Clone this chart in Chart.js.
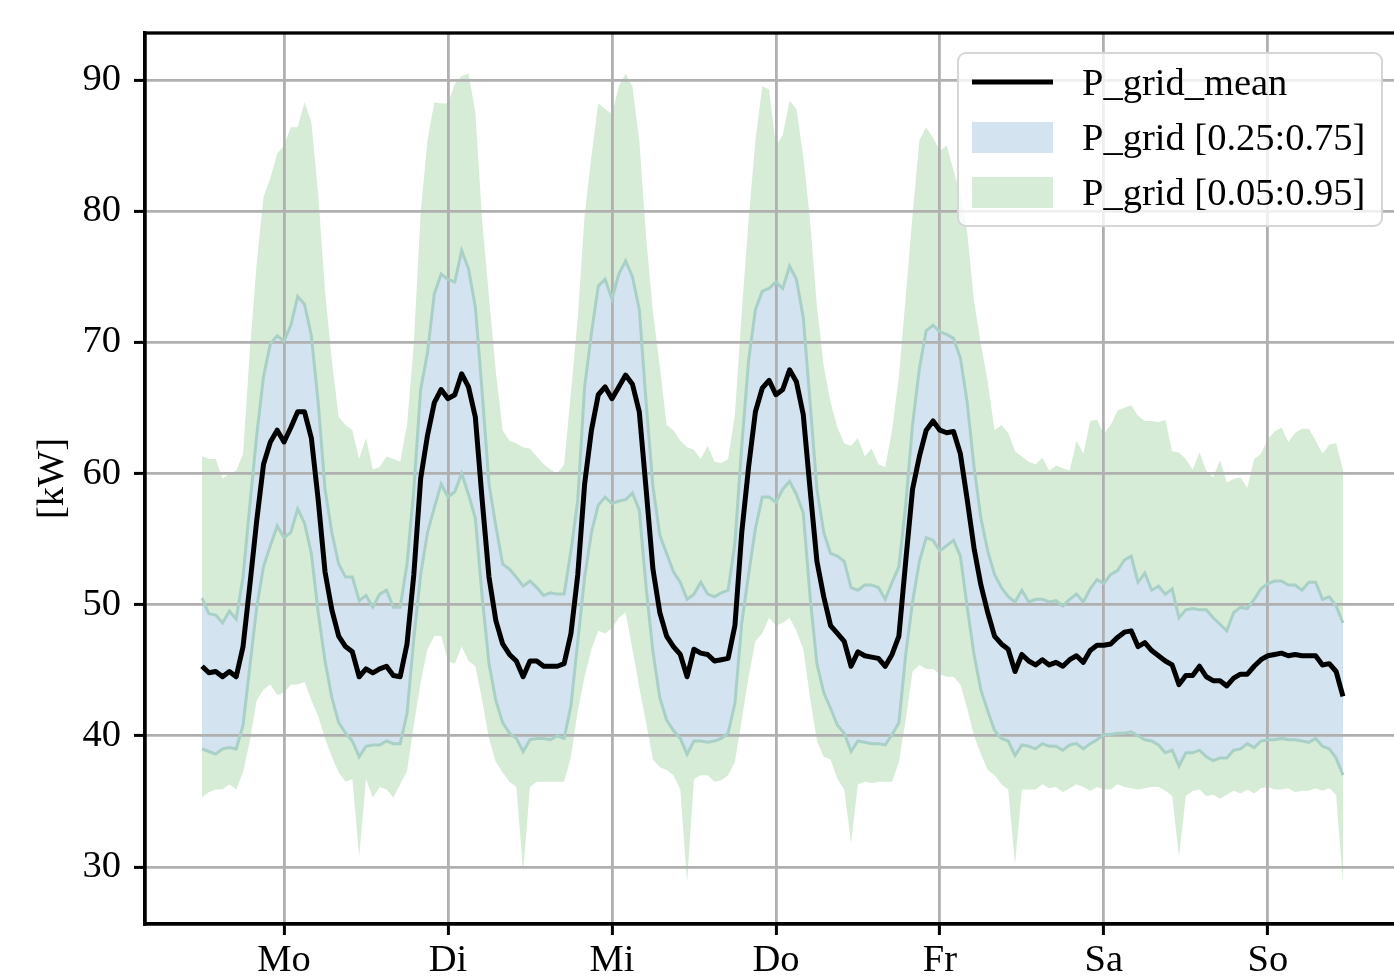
<!DOCTYPE html>
<html>
<head>
<meta charset="utf-8">
<script src="https://cdn.jsdelivr.net/npm/chart.js@4.4.1/dist/chart.umd.min.js"></script>
<style>
  html, body { margin: 0; padding: 0; background: #fff; overflow: hidden; }
  #wrap { position: relative; width: 1404px; height: 979px; }
</style>
</head>
<body>
<div id="wrap"><canvas id="grid-chart"></canvas></div>
<script>
// weekday labels sit at noon of each day (hour index of the week)
const dayLabels = ['Mo', 'Di', 'Mi', 'Do', 'Fr', 'Sa', 'So'];
const dayTicks = [12, 36, 60, 84, 108, 132, 156];
const yTicks = [30, 40, 50, 60, 70, 80, 90];

// hourly values, Monday 0:00 .. Sunday 23:00
const pMean = [
  45.3, 44.8, 44.9, 44.5, 44.9, 44.5, 46.8, 51.5, 56.4, 60.7, 62.4, 63.3, 62.4, 63.5, 64.7, 64.7, 62.7, 58.0, 52.5, 49.6, 47.6, 46.8, 46.4, 44.5,
  45.1, 44.8, 45.1, 45.3, 44.6, 44.5, 47.0, 52.3, 59.6, 62.9, 65.4, 66.4, 65.7, 66.0, 67.6, 66.6, 64.3, 58.0, 52.1, 48.8, 47.0, 46.2, 45.7, 44.5,
  45.7, 45.7, 45.3, 45.3, 45.3, 45.5, 47.8, 52.3, 59.2, 63.3, 66.0, 66.6, 65.7, 66.6, 67.5, 66.8, 64.7, 58.8, 52.7, 49.4, 47.6, 46.8, 46.2, 44.5,
  46.6, 46.3, 46.2, 45.7, 45.8, 45.9, 48.4, 55.5, 60.5, 64.7, 66.5, 67.1, 66.0, 66.4, 67.9, 67.0, 64.5, 58.8, 53.3, 50.6, 48.4, 47.8, 47.2, 45.3,
  46.4, 46.1, 46.0, 45.9, 45.3, 46.2, 47.6, 53.3, 58.8, 61.3, 63.3, 64.0, 63.3, 63.1, 63.2, 61.5, 58.0, 54.3, 51.5, 49.4, 47.6, 47.0, 46.6, 44.9,
  46.2, 45.7, 45.4, 45.8, 45.4, 45.6, 45.3, 45.8, 46.1, 45.6, 46.5, 46.9, 46.9, 47.0, 47.5, 47.9, 48.0, 46.8, 47.1, 46.5, 46.1, 45.7, 45.4, 43.9,
  44.6, 44.6, 45.3, 44.5, 44.2, 44.2, 43.8, 44.4, 44.7, 44.7, 45.3, 45.8, 46.1, 46.2, 46.3, 46.1, 46.2, 46.1, 46.1, 46.1, 45.4, 45.5, 44.9, 43.0
];
const pQ75 = [
  50.5, 49.3, 49.2, 48.6, 49.5, 48.9, 52.1, 57.6, 62.9, 67.4, 69.9, 70.5, 70.1, 71.3, 73.5, 72.9, 70.5, 65.4, 58.8, 55.5, 53.1, 52.1, 52.1, 50.3,
  50.7, 49.8, 50.8, 51.1, 49.8, 49.8, 53.1, 58.8, 66.4, 69.2, 73.7, 75.2, 74.8, 74.6, 77.0, 75.6, 72.7, 66.2, 59.2, 56.0, 53.1, 52.7, 52.1, 51.4,
  51.8, 51.3, 50.7, 50.9, 50.8, 50.8, 54.1, 58.0, 66.6, 70.7, 74.3, 74.8, 73.3, 75.2, 76.2, 75.0, 72.5, 65.4, 59.0, 55.3, 53.9, 52.5, 51.7, 50.4,
  50.8, 51.7, 50.8, 50.6, 50.9, 51.1, 54.7, 62.1, 68.6, 72.5, 73.9, 74.1, 74.6, 74.1, 75.8, 74.8, 71.9, 65.4, 58.8, 55.5, 53.9, 53.7, 53.3, 51.3,
  51.1, 51.5, 51.5, 51.3, 50.4, 51.7, 52.9, 57.6, 63.7, 68.0, 70.9, 71.3, 70.8, 70.6, 70.3, 68.8, 65.4, 60.5, 56.6, 54.1, 52.3, 51.3, 50.6, 50.2,
  51.1, 50.2, 50.4, 50.4, 50.2, 50.3, 49.9, 50.4, 50.8, 50.2, 51.2, 51.9, 51.6, 52.3, 52.6, 53.4, 53.7, 51.7, 52.4, 51.1, 51.4, 50.8, 51.2, 49.0,
  49.6, 49.7, 49.6, 49.6, 49.0, 48.5, 48.0, 49.4, 49.8, 49.7, 50.4, 51.2, 51.6, 51.8, 51.8, 51.5, 51.5, 51.1, 51.7, 51.7, 50.4, 50.6, 49.9, 48.6
];
const pQ25 = [
  39.0, 38.8, 38.6, 39.0, 39.1, 39.0, 40.8, 45.3, 49.8, 52.9, 54.5, 56.0, 55.1, 55.5, 57.3, 56.2, 53.9, 49.4, 45.7, 42.9, 41.0, 40.2, 39.6, 38.4,
  39.2, 39.3, 39.3, 39.6, 39.4, 39.4, 41.7, 47.4, 52.3, 55.5, 57.4, 59.2, 58.2, 58.6, 60.0, 58.4, 56.6, 50.6, 45.5, 42.7, 41.0, 40.2, 39.8, 38.8,
  39.7, 39.8, 39.8, 39.7, 40.0, 39.8, 42.3, 47.2, 52.1, 55.5, 57.6, 58.2, 57.7, 57.9, 58.0, 58.5, 57.2, 51.3, 46.4, 42.9, 41.2, 40.4, 39.8, 38.6,
  39.6, 39.6, 39.5, 39.6, 39.8, 40.2, 42.5, 48.6, 52.3, 55.8, 58.2, 58.2, 57.8, 58.8, 59.4, 58.4, 57.0, 50.6, 45.5, 43.3, 42.1, 40.8, 40.2, 38.8,
  39.6, 39.5, 39.4, 39.4, 39.3, 40.1, 41.0, 46.2, 50.2, 53.3, 55.1, 54.9, 54.1, 54.5, 54.9, 53.7, 49.8, 46.2, 43.5, 41.9, 40.4, 39.8, 39.6, 38.5,
  39.3, 39.2, 39.0, 39.4, 39.2, 39.2, 38.9, 39.3, 39.4, 39.0, 39.4, 39.7, 40.1, 40.1, 40.2, 40.2, 40.3, 40.0, 39.7, 39.6, 39.3, 38.7, 38.9, 37.7,
  38.7, 38.7, 38.9, 38.4, 38.1, 38.3, 38.3, 38.9, 39.0, 39.4, 39.1, 39.6, 39.7, 39.7, 39.8, 39.7, 39.7, 39.6, 39.5, 39.8, 39.2, 39.0, 38.3, 37.0
];
const pQ95 = [
  61.3, 61.1, 61.1, 59.6, 60.0, 60.2, 61.5, 69.4, 76.0, 81.1, 82.5, 84.4, 85.0, 86.4, 86.4, 88.3, 86.8, 81.3, 73.9, 68.6, 64.3, 63.7, 63.3, 61.1,
  62.7, 60.3, 60.5, 61.3, 61.1, 60.9, 63.7, 69.9, 79.9, 85.4, 88.3, 88.2, 88.2, 89.7, 90.3, 90.5, 87.6, 79.3, 73.5, 67.8, 63.3, 62.5, 62.3, 62.0,
  61.9, 61.3, 60.7, 60.3, 60.0, 60.7, 66.2, 71.9, 79.7, 84.2, 88.2, 87.8, 87.4, 89.5, 90.5, 89.5, 85.4, 78.0, 72.3, 68.2, 63.7, 63.3, 62.5, 62.0,
  61.8, 61.1, 62.1, 60.9, 60.8, 61.1, 64.5, 72.3, 79.3, 85.4, 89.5, 89.3, 85.0, 85.8, 88.4, 87.8, 84.2, 79.3, 72.7, 68.2, 65.4, 63.5, 62.3, 62.1,
  62.7, 61.3, 61.9, 60.7, 60.5, 63.3, 67.4, 73.5, 79.7, 85.4, 86.4, 85.6, 84.6, 85.0, 83.1, 81.3, 78.4, 73.1, 69.9, 67.0, 63.3, 63.7, 63.1, 61.7,
  61.3, 60.9, 60.7, 61.2, 60.2, 60.6, 60.4, 60.2, 62.5, 61.5, 64.0, 64.1, 63.0, 63.7, 64.8, 65.0, 65.2, 64.4, 64.0, 64.0, 63.9, 64.1, 61.7, 61.6,
  61.1, 60.3, 61.6, 60.2, 59.7, 61.0, 59.3, 59.6, 59.7, 58.9, 61.1, 61.5, 62.6, 63.2, 63.5, 62.4, 63.1, 63.4, 63.4, 62.5, 61.5, 62.2, 62.3, 60.3
];
const pQ05 = [
  35.3, 35.7, 35.9, 35.9, 36.3, 35.9, 37.2, 39.6, 42.7, 43.5, 43.9, 43.1, 43.3, 43.9, 43.9, 44.1, 42.7, 41.5, 39.8, 38.4, 37.2, 36.5, 36.7, 30.8,
  36.7, 35.3, 36.1, 35.9, 35.3, 36.3, 37.3, 40.8, 44.1, 46.6, 47.6, 47.6, 45.7, 45.5, 46.8, 45.7, 45.3, 42.7, 39.8, 38.0, 37.2, 36.5, 36.1, 29.6,
  36.1, 36.5, 36.5, 36.5, 36.5, 36.5, 38.4, 41.9, 44.5, 46.6, 48.0, 47.8, 48.2, 49.0, 49.4, 46.6, 43.7, 41.0, 38.2, 37.6, 37.4, 37.0, 35.9, 28.8,
  36.7, 37.0, 37.0, 36.5, 36.6, 37.0, 38.0, 41.2, 44.5, 47.2, 47.8, 49.0, 48.4, 48.6, 49.0, 48.0, 46.6, 42.9, 39.6, 38.4, 38.2, 36.7, 35.9, 31.8,
  36.3, 36.5, 36.4, 36.5, 36.5, 36.5, 38.0, 41.2, 44.9, 45.4, 45.1, 45.1, 44.7, 44.5, 44.5, 43.9, 42.1, 40.0, 38.6, 37.4, 37.0, 36.3, 35.9, 30.2,
  35.9, 35.9, 35.9, 36.3, 36.0, 36.1, 35.7, 36.0, 36.3, 36.1, 35.8, 36.1, 35.9, 35.9, 36.3, 36.1, 36.0, 35.9, 36.0, 36.1, 36.1, 35.8, 35.4, 30.8,
  35.4, 35.8, 35.9, 35.4, 35.5, 35.2, 35.5, 35.8, 35.6, 35.9, 35.6, 36.0, 36.1, 35.9, 35.9, 36.0, 35.7, 35.8, 35.8, 36.0, 35.8, 36.0, 35.5, 28.8
];

const serif = 'Liberation Serif';
const fontSize = 38.5;
const blueFill = '#d3e3ef';
const greenFill = '#d6ecd6';
const bandEdge = '#a9d0c6';

function toPoints(values) {
  return values.map((v, i) => ({ x: i, y: v }));
}

// black frame round the plot area
const framePlugin = {
  id: 'frame',
  afterDraw(chart) {
    const { ctx, chartArea: a } = chart;
    ctx.save();
    ctx.strokeStyle = '#000';
    ctx.lineWidth = 3.3;
    ctx.strokeRect(a.left, a.top, a.right - a.left, a.bottom - a.top);
    ctx.restore();
  }
};

// matplotlib-like legend box in the upper right corner
const boxLegend = {
  id: 'boxLegend',
  afterDraw(chart) {
    const { ctx, chartArea: a } = chart;
    const x0 = a.right - 442, y0 = a.top + 20, w = 424, h = 173;
    ctx.save();
    ctx.beginPath();
    ctx.roundRect(x0, y0, w, h, 8);
    ctx.fillStyle = 'rgba(255,255,255,0.8)';
    ctx.fill();
    ctx.strokeStyle = '#d6d6d6';
    ctx.lineWidth = 2;
    ctx.stroke();

    const items = [
      { label: chart.data.datasets[0].label, kind: 'line' },
      { label: chart.data.datasets[1].label, kind: blueFill },
      { label: chart.data.datasets[3].label, kind: greenFill }
    ];
    ctx.font = fontSize + 'px "' + serif + '"';
    ctx.textBaseline = 'alphabetic';
    ctx.textAlign = 'left';
    items.forEach((it, i) => {
      const cy = y0 + 29 + i * 55;
      if (it.kind === 'line') {
        ctx.strokeStyle = '#000';
        ctx.lineWidth = 5;
        ctx.beginPath();
        ctx.moveTo(x0 + 14, cy);
        ctx.lineTo(x0 + 95, cy);
        ctx.stroke();
      } else {
        ctx.fillStyle = it.kind;
        ctx.fillRect(x0 + 14, cy - 15, 81, 31);
      }
      ctx.fillStyle = '#000';
      ctx.fillText(it.label, x0 + 124, cy + 13);
    });
    ctx.restore();
  }
};

new Chart(document.getElementById('grid-chart'), {
  type: 'line',
  data: {
    datasets: [
      {
        label: 'P_grid_mean',
        data: toPoints(pMean),
        borderColor: '#000',
        borderWidth: 5,
        borderJoinStyle: 'round',
        pointRadius: 0,
        fill: false
      },
      {
        label: 'P_grid [0.25:0.75]',
        data: toPoints(pQ75),
        borderColor: bandEdge,
        backgroundColor: blueFill,
        borderWidth: 3,
        pointRadius: 0,
        fill: '+1'
      },
      {
        label: 'q25',
        data: toPoints(pQ25),
        borderColor: bandEdge,
        borderWidth: 3,
        pointRadius: 0,
        fill: false
      },
      {
        label: 'P_grid [0.05:0.95]',
        data: toPoints(pQ95),
        borderColor: greenFill,
        backgroundColor: greenFill,
        borderWidth: 0,
        pointRadius: 0,
        fill: '+1'
      },
      {
        label: 'q05',
        data: toPoints(pQ05),
        borderColor: greenFill,
        borderWidth: 0,
        pointRadius: 0,
        fill: false
      }
    ]
  },
  options: {
    responsive: true,
    maintainAspectRatio: false,
    animation: false,
    devicePixelRatio: 1,
    layout: { padding: { left: 0, top: 33, right: 4, bottom: 0 } },
    plugins: {
      legend: { display: false },
      tooltip: { enabled: false },
      filler: { drawTime: 'beforeDraw' }
    },
    scales: {
      x: {
        type: 'linear',
        min: -8.35,
        max: 175.35,
        afterBuildTicks: (s) => { s.ticks = dayTicks.map(v => ({ value: v })); },
        afterFit: (s) => { s.height = 55; s.paddingLeft = 0; s.paddingRight = 0; },
        ticks: {
          autoSkip: false,
          maxRotation: 0,
          padding: 3,
          color: '#000',
          font: { family: serif, size: fontSize },
          callback: (v) => dayLabels[dayTicks.indexOf(v)]
        },
        grid: { color: '#b0b0b0', lineWidth: 2.8, tickColor: '#000', tickWidth: 3, tickLength: 11 },
        border: { display: true, color: '#000', width: 3.3 }
      },
      y: {
        min: 25.65,
        max: 93.58,
        afterBuildTicks: (s) => { s.ticks = yTicks.map(v => ({ value: v })); },
        afterFit: (s) => { s.width = 145; s.paddingTop = 0; s.paddingBottom = 0; },
        ticks: {
          padding: 13,
          color: '#000',
          font: { family: serif, size: fontSize }
        },
        title: {
          display: true,
          text: '[kW]',
          color: '#000',
          padding: { top: 30, bottom: 0 },
          font: { family: serif, size: fontSize }
        },
        grid: { color: '#b0b0b0', lineWidth: 2.8, tickColor: '#000', tickWidth: 3, tickLength: 11 },
        border: { display: true, color: '#000', width: 3.3 }
      }
    }
  },
  plugins: [framePlugin, boxLegend]
});
</script>
</body>
</html>
